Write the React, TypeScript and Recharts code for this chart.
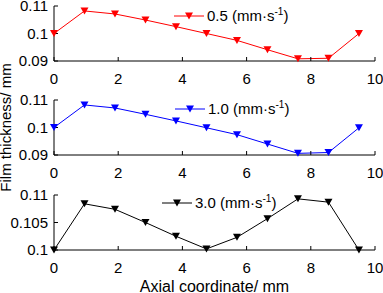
import React from "react";
import { LineChart, Line, XAxis, YAxis, Legend } from "recharts";

// axial positions (mm)
const axialPos = [0, 0.95, 1.9, 2.85, 3.8, 4.75, 5.7, 6.65, 7.6, 8.55, 9.5];

// film thickness (mm) for each velocity
const film05 = [0.1, 0.1082, 0.1071, 0.1049, 0.1025, 0.1, 0.0975, 0.0941, 0.0908, 0.091, 0.1];
const film10 = [0.1, 0.1082, 0.1071, 0.1048, 0.1024, 0.0999, 0.0974, 0.094, 0.0906, 0.0909, 0.0999];
const film30 = [0.1, 0.1084, 0.1074, 0.105, 0.1025, 0.1002, 0.1023, 0.1057, 0.1093, 0.1087, 0.1];

const xTicks = [0, 2, 4, 6, 8, 10];
const yTicksLow = [0.09, 0.1, 0.11];
const yTicksHigh = [0.1, 0.105, 0.11];

const velocityLabels = ["0.5", "1.0", "3.0"];

const rows = axialPos.map((x, i) => ({
  x,
  v05: film05[i],
  v10: film10[i],
  v30: film30[i],
}));

const W = 383;
const H = 293;
const FONT = "'Liberation Sans', Arial, sans-serif";
const tickStyle = { fill: "#000", fontSize: 15, fontFamily: FONT };

// downward triangle marker
const triangle = (color: string) => (props: any) => {
  const { cx, cy, index } = props;
  if (cx == null || cy == null) return <g key={index} />;
  return (
    <path
      key={index}
      d={`M${cx - 4},${cy - 3.5}L${cx + 4},${cy - 3.5}L${cx},${cy + 3.5}Z`}
      fill={color}
    />
  );
};

const LegendItem = ({ color, label }: { color: string; label: string }) => (
  <div style={{ display: "flex", alignItems: "center", fontFamily: FONT, fontSize: 15, lineHeight: 1, color: "#000" }}>
    <svg width={30} height={10} style={{ display: "block" }}>
      <line x1={0} y1={5} x2={30} y2={5} stroke={color} strokeWidth={1} />
      <path d="M11,1.5L19,1.5L15,8.5Z" fill={color} />
    </svg>
    <span style={{ marginLeft: 3, whiteSpace: "nowrap" }}>
      {label} (mm·s<span style={{ fontSize: 10, position: "relative", top: -6 }}>-1</span>)
    </span>
  </div>
);

type PanelProps = {
  dataKey: string;
  color: string;
  label: string;
  top: number;
  bottom: number;
  xHeight: number;
  domain: [number, number];
  yTicks: number[];
  legendLeft: number;
  legendTop: number;
  yTitle?: boolean;
  xTitle?: boolean;
};

function Panel(p: PanelProps) {
  return (
    <div style={{ position: "absolute", left: 0, top: 0 }}>
      <LineChart width={W} height={H} data={rows} margin={{ top: p.top, right: 8, left: 4, bottom: p.bottom }}>
        <XAxis
          dataKey="x"
          type="number"
          domain={[0, 10]}
          ticks={xTicks}
          interval={0}
          height={p.xHeight}
          tickSize={-4}
          tickMargin={16}
          tick={tickStyle}
          axisLine={{ stroke: "#000" }}
          tickLine={{ stroke: "#000" }}
          label={
            p.xTitle
              ? { value: "Axial coordinate/ mm", position: "insideBottom", offset: 1, fill: "#000", fontSize: 16, fontFamily: FONT }
              : undefined
          }
        />
        <YAxis
          type="number"
          domain={p.domain}
          ticks={p.yTicks}
          interval={0}
          width={50}
          tickSize={-4}
          tickMargin={10}
          tick={tickStyle}
          tickFormatter={(v: number) => String(v)}
          axisLine={{ stroke: "#000" }}
          tickLine={{ stroke: "#000" }}
          label={
            p.yTitle
              ? {
                  value: "Film thickness/ mm",
                  angle: -90,
                  position: "insideLeft",
                  offset: 2,
                  fill: "#000",
                  fontSize: 15,
                  fontFamily: FONT,
                  style: { textAnchor: "middle" },
                }
              : undefined
          }
        />
        <Legend
          layout="vertical"
          align="center"
          verticalAlign="middle"
          wrapperStyle={{ left: p.legendLeft, top: p.legendTop, width: 150, height: 18 }}
          content={() => <LegendItem color={p.color} label={p.label} />}
        />
        <Line
          type="linear"
          dataKey={p.dataKey}
          stroke={p.color}
          strokeWidth={1}
          dot={triangle(p.color)}
          activeDot={false}
          isAnimationActive={false}
        />
      </LineChart>
    </div>
  );
}

export default function App() {
  return (
    <div style={{ position: "absolute", left: 0, top: 0, width: W, height: H, background: "#fff", fontFamily: FONT }}>
      <Panel
        dataKey="v05"
        color="#ff0000"
        label={velocityLabels[0]}
        top={6}
        bottom={198}
        xHeight={34}
        domain={[0.09, 0.11]}
        yTicks={yTicksLow}
        legendLeft={174}
        legendTop={8}
      />
      <Panel
        dataKey="v10"
        color="#0000ff"
        label={velocityLabels[1]}
        top={100}
        bottom={104}
        xHeight={34}
        domain={[0.09, 0.11]}
        yTicks={yTicksLow}
        legendLeft={175}
        legendTop={101}
        yTitle
      />
      <Panel
        dataKey="v30"
        color="#000000"
        label={velocityLabels[2]}
        top={195}
        bottom={0}
        xHeight={43}
        domain={[0.1, 0.11]}
        yTicks={yTicksHigh}
        legendLeft={162}
        legendTop={195}
        xTitle
      />
    </div>
  );
}
